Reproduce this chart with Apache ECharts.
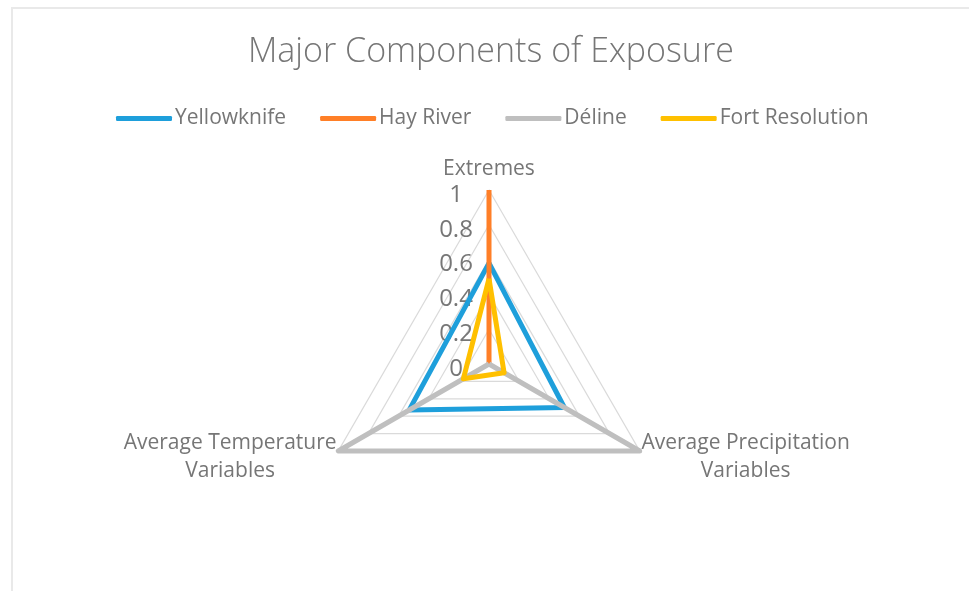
<!DOCTYPE html>
<html>
<head>
<meta charset="utf-8">
<script src="https://cdn.jsdelivr.net/npm/echarts@6/dist/echarts.min.js"></script>
<style>
  html, body { margin: 0; padding: 0; background: #ffffff; }
  #chart { width: 969px; height: 591px; position: relative; }
  #frame {
    position: absolute; left: 11px; top: 7px; right: -4px; bottom: -4px;
    border-left: 2px solid #e9e9e9; border-top: 2px solid #e9e9e9;
    pointer-events: none;
  }
</style>
</head>
<body>
<div id="chart"></div>
<div id="frame"></div>
<script>
// Radar axes, listed counter-clockwise from the top as ECharts lays them out
const indicators = ['Extremes', 'Average Temperature\nVariables', 'Average Precipitation\nVariables'];
const axisMax = 1;
const tickStep = 0.2;

// Exposure scores per community, in indicator order (Extremes, Temperature, Precipitation)
const yellowknife = [0.58, 0.53, 0.5];
const hayRiver = [1, 0, 0];
const deline = [0, 1, 1];
const fortResolution = [0.49, 0.17, 0.1];

const seriesNames = ['Yellowknife', 'Hay River', 'Déline', 'Fort Resolution'];
const seriesValues = [yellowknife, hayRiver, deline, fortResolution];
const seriesColors = ['#1e9fdb', '#ff7f27', '#bfbfbf', '#ffc000'];

const FONT = '"Open Sans", "Liberation Sans", sans-serif';
const TEXT = '#767676';

const chart = echarts.init(document.getElementById('chart'), null, { renderer: 'canvas' });

const option = {
  animation: false,
  backgroundColor: '#ffffff',
  title: {
    text: 'Major Components of Exposure',
    left: 243,
    top: 30,
    textStyle: { fontFamily: FONT, fontSize: 34, fontWeight: 300, color: TEXT }
  },
  legend: {
    data: seriesNames,
    top: 103,
    left: 111,
    icon: 'roundRect',
    itemWidth: 56,
    itemHeight: 5,
    itemGap: 34,
    textStyle: { fontFamily: FONT, fontSize: 21, color: TEXT, padding: [0, 0, 0, -2] }
  },
  radar: {
    center: [489, 364],
    radius: 174,
    startAngle: 90,
    shape: 'polygon',
    splitNumber: Math.round(axisMax / tickStep),
    indicator: indicators.map((name, i) => ({
      name: name,
      min: 0,
      max: axisMax,
      axisLabel: i === 0 ? {
        show: true,
        showMinLabel: true,
        margin: 11,
        formatter: v => '{v|' + v + '}',
        rich: {
          v: { fontFamily: FONT, fontSize: 24, color: TEXT, width: 44, align: 'center', padding: [10, 0, 0, 0] }
        }
      } : { show: false }
    })),
    axisName: {
      fontFamily: FONT,
      fontSize: 21,
      color: TEXT,
      padding: [10, 0, 0, 0],
      formatter: function (name) {
        if (name === 'Extremes') return '{top|' + name + '}';
        return name.split('\n').map(s => '{side|' + s + '}').join('\n');
      },
      rich: {
        top: { fontFamily: FONT, fontSize: 21, color: TEXT, align: 'center', padding: [0, 0, 8, 0] },
        side: { fontFamily: FONT, fontSize: 21, color: TEXT, align: 'center', lineHeight: 28 }
      }
    },
    nameGap: 2,
    axisLine: { lineStyle: { color: '#dadada', width: 1.2 } },
    splitLine: { lineStyle: { color: '#dadada', width: 1.2 } },
    splitArea: { show: false },
    axisTick: { show: false },
    axisLabel: { show: false }
  },
  series: seriesNames.map((name, i) => ({
    name: name,
    type: 'radar',
    symbol: 'none',
    lineStyle: { width: 5, color: seriesColors[i], join: 'round' },
    itemStyle: { color: seriesColors[i] },
    data: [{ name: name, value: seriesValues[i] }]
  }))
};

chart.setOption(option);
</script>
</body>
</html>
